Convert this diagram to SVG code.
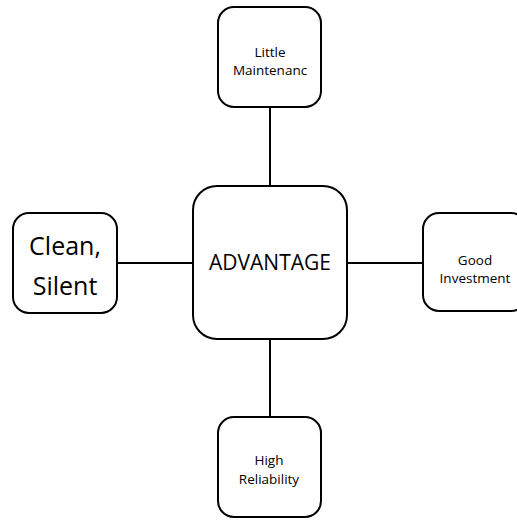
<svg xmlns="http://www.w3.org/2000/svg" width="517" height="520" viewBox="0 0 517 520">
  <style>
    .box { fill: #ffffff; stroke: #000000; stroke-width: 2; }
    .link { stroke: #000000; stroke-width: 2; fill: none; }
    text { font-family: "Open Sans", "Liberation Sans", sans-serif; fill: #000000; text-anchor: middle; }
    .small { font-size: 13.5px; }
    .big { font-size: 25px; }
    .hub { font-size: 21px; }
  </style>
  <rect width="517" height="520" fill="#ffffff"/>
  <g id="connectors">
    <line class="link" x1="270" y1="107" x2="270" y2="186"/>
    <line class="link" x1="270" y1="339" x2="270" y2="417"/>
    <line class="link" x1="117" y1="263" x2="193" y2="263"/>
    <line class="link" x1="347" y1="263" x2="423" y2="263"/>
  </g>
  <g id="advantage">
    <rect class="box" x="193" y="186" width="154" height="153" rx="24"/>
    <text class="hub" x="270" y="270">ADVANTAGE</text>
  </g>
  <g id="maintenance">
    <rect class="box" x="218" y="7" width="103" height="100" rx="16"/>
    <text class="small" x="270" y="57">Little</text>
    <text class="small" x="270" y="75">Maintenanc</text>
  </g>
  <g id="clean">
    <rect class="box" x="13" y="213" width="104" height="100" rx="16"/>
    <text class="big" x="65" y="255">Clean,</text>
    <text class="big" x="65" y="295">Silent</text>
  </g>
  <g id="investment">
    <rect class="box" x="423" y="213" width="104" height="98" rx="16"/>
    <text class="small" x="475" y="265">Good</text>
    <text class="small" x="475" y="283">Investment</text>
  </g>
  <g id="reliability">
    <rect class="box" x="218" y="417" width="103" height="100" rx="16"/>
    <text class="small" x="269" y="465">High</text>
    <text class="small" x="269" y="484">Reliability</text>
  </g>
</svg>
